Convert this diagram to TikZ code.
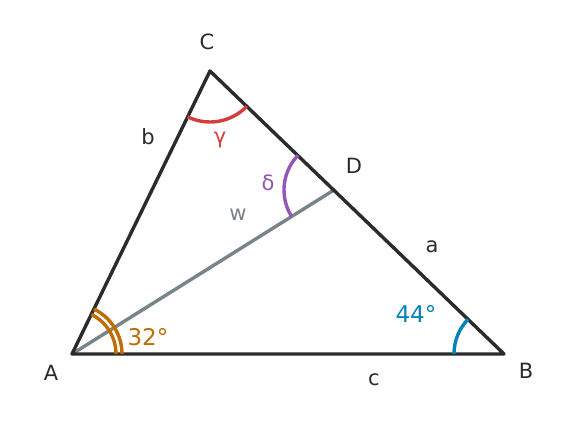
\documentclass[tikz,border=0pt]{standalone}
\usepackage{fontspec}
\setmainfont{DejaVu Sans}
\usepackage{tikz}

\definecolor{ink}{RGB}{43,43,43}
\definecolor{wgray}{RGB}{120,131,138}
\definecolor{aorange}{RGB}{192,108,0}
\definecolor{bblue}{RGB}{0,132,185}
\definecolor{cred}{RGB}{214,60,56}
\definecolor{dpurple}{RGB}{148,85,185}

\begin{document}
\begin{tikzpicture}[x=1pt,y=-1pt,
                    side/.style={draw=ink, line width=3.4pt, line join=round},
                    bisector/.style={draw=wgray, line width=3.4pt},
                    anglearc/.style={line width=3.4pt},
                    label text/.style={font=\fontsize{21}{25}\selectfont, text=ink, inner sep=0pt},
                    angle text/.style={font=\fontsize{23}{27}\selectfont, inner sep=0pt}]

    \useasboundingbox[fill=white] (0,0) rectangle (576,427);

    \coordinate (A) at (72,354);
    \coordinate (B) at (504,354);
    \coordinate (C) at (210,71);
    \coordinate (D) at (334,190);

    % triangle and bisector
    \draw[bisector] (A) -- (D);
    \draw[side] (A) -- (B) -- (C) -- cycle;

    % angle marks
    \draw[anglearc, draw=aorange] ([shift={(0:44)}]A) arc[start angle=0, end angle=-64, radius=44];
    \draw[anglearc, draw=aorange] ([shift={(0:50)}]A) arc[start angle=0, end angle=-64, radius=50];
    \draw[anglearc, draw=bblue] ([shift={(180:50)}]B) arc[start angle=180, end angle=224, radius=50];
    \draw[anglearc, draw=cred] ([shift={(44:51)}]C) arc[start angle=44, end angle=116, radius=51];
    \draw[anglearc, draw=dpurple] ([shift={(148:50)}]D) arc[start angle=148, end angle=224, radius=50];

    % vertex names
    \node[label text] (lA) at (51,373) {A};
    \node[label text] (lB) at (526,371) {B};
    \node[label text] (lC) at (207,42) {C};
    \node[label text] (lD) at (354,166) {D};

    % sides
    \node[label text] (la) at (432,247) {a};
    \node[label text] (lb) at (148,137) {b};
    \node[label text] (lc) at (374,380) {c};
    \node[label text, text=wgray] (lw) at (238,215) {w};

    % angles
    \node[angle text, text=aorange] (lalpha) at (148,337) {32°};
    \node[angle text, text=bblue] (lbeta) at (416,314) {44°};
    \node[label text, text=cred] (lgamma) at (220,140) {γ};
    \node[label text, text=dpurple] (ldelta) at (268,183) {δ};
\end{tikzpicture}
\end{document}
